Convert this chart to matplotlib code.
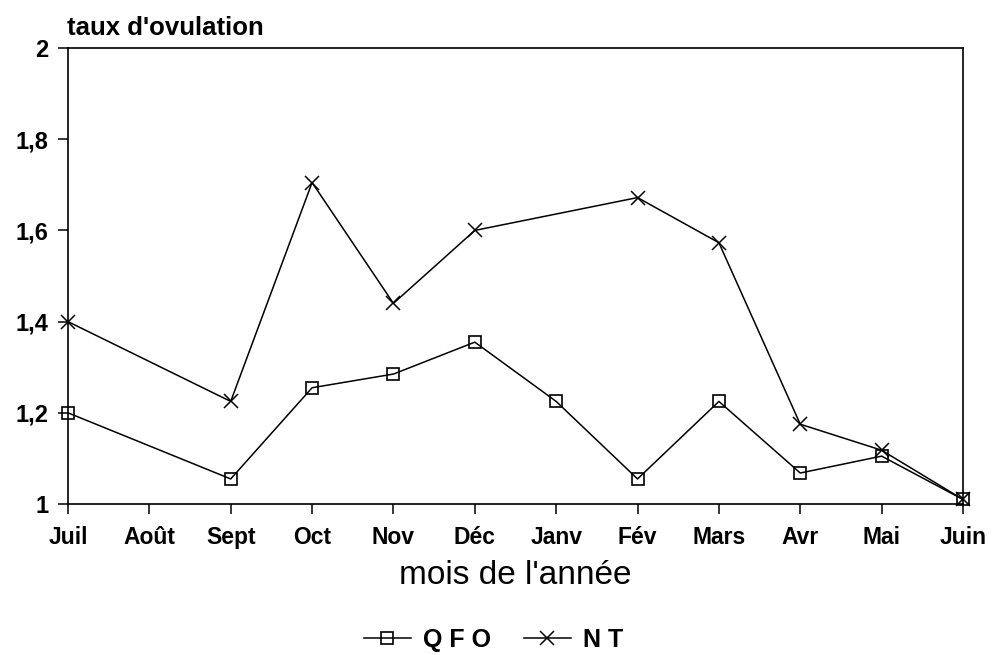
import matplotlib
matplotlib.use("Agg")
import matplotlib.pyplot as plt
import numpy as np
from matplotlib.lines import Line2D

months = ["Juil", "Août", "Sept", "Oct", "Nov", "Déc", "Janv", "Fév", "Mars", "Avr", "Mai", "Juin"]
qfo_months = ["Juil", "Sept", "Oct", "Nov", "Déc", "Janv", "Fév", "Mars", "Avr", "Mai", "Juin"]
qfo_values = [1.20, 1.055, 1.255, 1.285, 1.355, 1.225, 1.055, 1.225, 1.068, 1.105, 1.01]
nt_months = ["Juil", "Sept", "Oct", "Nov", "Déc", "Fév", "Mars", "Avr", "Mai", "Juin"]
nt_values = [1.40, 1.225, 1.705, 1.44, 1.60, 1.672, 1.573, 1.175, 1.118, 1.01]
y_ticks = [1, 1.2, 1.4, 1.6, 1.8, 2]
y_ticklabels = ["1", "1,2", "1,4", "1,6", "1,8", "2"]

plt.rcParams['font.family'] = ['Liberation Sans', 'DejaVu Sans']

fig = plt.figure(figsize=(9.94, 6.55), dpi=100)
ax = fig.add_axes([0.0684, 0.2305, 0.9004, 0.6962])

pos = {m: i for i, m in enumerate(months)}
qx = [pos[m] for m in qfo_months]
nx = [pos[m] for m in nt_months]

ax.plot(qx, qfo_values, color="black", lw=1.1, marker="s", markersize=8,
        markerfacecolor="none", markeredgecolor="black", markeredgewidth=1.2, clip_on=False)
ax.plot(nx, nt_values, color="black", lw=1.1, marker="x", markersize=10,
        markeredgewidth=1.1, clip_on=False)

ax.set_xlim(0, len(months) - 1)
ax.set_ylim(1, 2)
ax.set_xticks(range(len(months)))
ax.set_xticklabels(months, fontsize=16.5, fontweight="bold")
ax.set_yticks(y_ticks)
ax.set_yticklabels(y_ticklabels, fontsize=17, fontweight="bold")
ax.tick_params(axis="both", direction="out", length=7, width=1.1, color="black")
ax.tick_params(axis="x", pad=9)
ax.tick_params(axis="y", pad=7)
for s in ax.spines.values():
    s.set_linewidth(1.2)
    s.set_color("black")

ax.set_xlabel("mois de l'année", fontsize=24, labelpad=8)
fig.text(0.067, 1 - 35 / 655, "taux d'ovulation", fontsize=18.5, fontweight="bold",
         ha="left", va="baseline")

handles = [
    Line2D([], [], color="black", lw=1.1, marker="s", markersize=8,
           markerfacecolor="none", markeredgewidth=1.2),
    Line2D([], [], color="black", lw=1.1, marker="x", markersize=10, markeredgewidth=1.1),
]
fig.legend(handles, ["Q F O", "N T"], loc="lower center", bbox_to_anchor=(0.4965, -0.03),
           ncol=2, frameon=False, prop={"size": 18, "weight": "bold"},
           handlelength=1.9, handletextpad=0.48, columnspacing=1.3)

fig.savefig("out.png", dpi=100)
